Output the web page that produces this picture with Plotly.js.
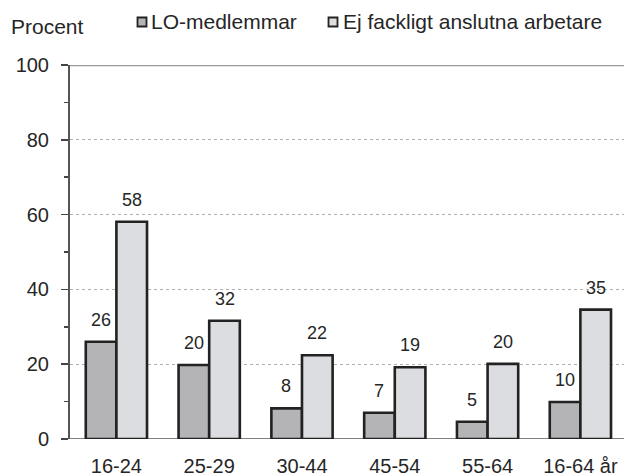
<!DOCTYPE html>
<html>
<head>
<meta charset="utf-8">
<script src="https://cdn.plot.ly/plotly-3.0.1.min.js"></script>
<style>
  html, body { margin: 0; padding: 0; background: #ffffff; }
  #chart { width: 624px; height: 476px; }
</style>
</head>
<body>
<div id="chart"></div>
<script>
// ---- Data ----
const categories = ['16-24', '25-29', '30-44', '45-54', '55-64', '16-64 år'];
const seriesNames = ['LO-medlemmar', 'Ej fackligt anslutna arbetare'];
const loValues = [26, 19.8, 8.2, 7.0, 4.6, 9.9];
const ejValues = [58.1, 31.6, 22.4, 19.2, 20.1, 34.6];
const yTickVals = [0, 20, 40, 60, 80, 100];
const yAxisLabel = 'Procent';

const colors = ['#b4b4b7', '#dcdde0'];
const FONT = '"Liberation Sans", Arial, sans-serif';
const TXT = '#262626';

// plot area pixel geometry (for paper coords of the outside texts)
const L = 70, T = 65, W = 554, H = 374;
const px = x => (x - L) / W;
const py = y => (T + H - y) / H;

const traces = [loValues, ejValues].map((vals, i) => ({
  type: 'bar',
  name: seriesNames[i],
  x: categories,
  y: vals,
  marker: { color: colors[i], line: { color: '#222222', width: 2.6 } },
  showlegend: false,
  hoverinfo: 'x+y'
}));

const annotations = [];
[loValues, ejValues].forEach((vals, i) => {
  vals.forEach((v, j) => {
    annotations.push({
      x: categories[j], y: v, xref: 'x', yref: 'y',
      text: String(Math.round(v)),
      showarrow: false,
      xshift: i === 0 ? -15.5 : 15.5,
      yshift: 22,
      yanchor: 'middle', xanchor: 'center',
      font: { family: FONT, size: 18, color: TXT }
    });
  });
});

// y-axis unit label
annotations.push({
  xref: 'paper', yref: 'paper', x: px(9), y: py(26.5),
  xanchor: 'left', yanchor: 'middle', showarrow: false,
  text: yAxisLabel, font: { family: FONT, size: 21, color: TXT }
});
// legend texts
const legendTextX = [150, 341.5];
const legendBoxX = [142, 333];
seriesNames.forEach((n, i) => {
  annotations.push({
    xref: 'paper', yref: 'paper', x: px(legendTextX[i] - 1), y: py(22),
    xanchor: 'left', yanchor: 'middle', showarrow: false,
    text: n, font: { family: FONT, size: 21, color: TXT }
  });
});

const shapes = [];
seriesNames.forEach((n, i) => {
  shapes.push({
    type: 'rect', xref: 'paper', yref: 'paper',
    xsizemode: 'pixel', ysizemode: 'pixel',
    xanchor: px(legendBoxX[i]), yanchor: py(22),
    x0: -4.5, x1: 4.5, y0: -4.5, y1: 4.5,
    fillcolor: colors[i], line: { color: '#222', width: 1.8 }
  });
});
// top border line at 100 and baseline at 0
shapes.push({ type: 'line', xref: 'paper', yref: 'y', x0: 0, x1: 1, y0: 100, y1: 100,
  line: { color: '#9a9a9a', width: 2.6 }, layer: 'below' });
shapes.push({ type: 'line', xref: 'paper', yref: 'y', x0: 0, x1: 1, y0: 0, y1: 0,
  line: { color: '#808080', width: 2 }, layer: 'below' });

const layout = {
  width: 624, height: 476,
  margin: { l: L, r: 0, t: T, b: 476 - T - H, pad: 0 },
  paper_bgcolor: '#ffffff', plot_bgcolor: '#ffffff',
  barmode: 'group', bargap: 0.34, bargroupgap: 0,
  font: { family: FONT, color: TXT },
  xaxis: {
    type: 'category', range: [-0.5, 5.47],
    showline: false, showgrid: false, zeroline: false,
    ticks: '', ticklabelstandoff: 13,
    tickfont: { family: FONT, size: 20, color: TXT },
    fixedrange: true
  },
  yaxis: {
    range: [0, 100], tickvals: yTickVals,
    showline: true, linecolor: '#555', linewidth: 2,
    ticks: 'outside', ticklen: 7, tickwidth: 1.5, tickcolor: '#444',
    ticklabelstandoff: 8,
    showgrid: true, gridcolor: '#b0b0b0', griddash: 'dot', gridwidth: 1,
    zeroline: false,
    minor: { dtick: 10, ticks: 'outside', ticklen: 4, tickwidth: 1.5, tickcolor: '#444', showgrid: false },
    tickfont: { family: FONT, size: 20, color: TXT },
    fixedrange: true
  },
  annotations: annotations,
  shapes: shapes
};

Plotly.newPlot('chart', traces, layout, { displayModeBar: false, staticPlot: true });
</script>
</body>
</html>
